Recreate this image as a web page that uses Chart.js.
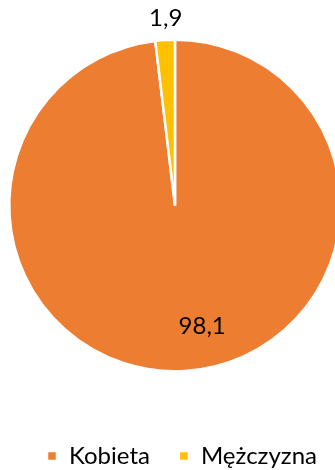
<!DOCTYPE html>
<html lang="pl">
<head>
<meta charset="utf-8">
<script src="https://cdn.jsdelivr.net/npm/chart.js@4/dist/chart.umd.min.js"></script>
<style>
  html, body { margin: 0; padding: 0; background: #fff; overflow: hidden; }
  #wrap { width: 342px; height: 478px; }
</style>
</head>
<body>
<div id="wrap"><canvas id="chartPlec" width="342" height="478"></canvas></div>
<script>
// === DATA ===
const kategorie = ["Kobieta", "Mężczyzna"];
const wartosci = [98.1, 1.9];
const kolory = ["#ED7D31", "#FFC000"];

const FONT = "Lato, 'Open Sans', sans-serif";

// label format with a decimal comma
function formatPL(v) {
  return v.toFixed(1).replace(".", ",");
}

// === PLUGIN: value labels on slices ===
// big slice: label inside (shifted a bit like Excel's best fit), small slice: outside
const etykietyPlugin = {
  id: "etykiety",
  afterDatasetsDraw(chart) {
    const ctx = chart.ctx;
    const meta = chart.getDatasetMeta(0);
    ctx.save();
    ctx.font = "24px " + FONT;
    ctx.fillStyle = "#000";
    ctx.textAlign = "center";
    ctx.textBaseline = "middle";
    meta.data.forEach((arc, i) => {
      const p = arc.getProps(["x", "y", "startAngle", "endAngle", "outerRadius"], true);
      const mid = (p.startAngle + p.endAngle) / 2;
      const share = wartosci[i] / wartosci.reduce((a, b) => a + b, 0);
      let ang, dist;
      if (share < 0.05) {
        ang = mid + 0.6 * Math.PI / 180;
        dist = p.outerRadius + 22;
      } else {
        ang = mid - 9.3 * Math.PI / 180;
        dist = p.outerRadius * 0.745;
      }
      ctx.fillText(formatPL(wartosci[i]), p.x + Math.cos(ang) * dist, p.y + Math.sin(ang) * dist);
    });
    ctx.restore();
  }
};

// legend sits a little right of the pie centre in the original
const legendShift = {
  id: "legendShift",
  afterLayout(chart) {
    chart.legend.left += 7;
    chart.legend.right += 7;
  }
};

// === CHART ===
const ctx = document.getElementById("chartPlec").getContext("2d");
const chartPlec = new Chart(ctx, {
  type: "pie",
  data: {
    labels: kategorie,
    datasets: [{
      data: wartosci,
      backgroundColor: kolory,
      borderColor: "#ffffff",
      borderWidth: 2.5
    }]
  },
  options: {
    responsive: false,
    animation: false,
    layout: { padding: { left: 8, top: 0, right: 0, bottom: 0 } },
    plugins: {
      tooltip: { enabled: false },
      legend: {
        position: "bottom",
        title: { display: true, text: "", padding: 0, font: { size: 4, lineHeight: 1 } },
        labels: {
          boxWidth: 10,
          boxHeight: 10,
          padding: 29,
          color: "#000",
          font: { family: FONT, size: 24 }
        }
      }
    }
  },
  plugins: [etykietyPlugin, legendShift]
});
</script>
</body>
</html>
